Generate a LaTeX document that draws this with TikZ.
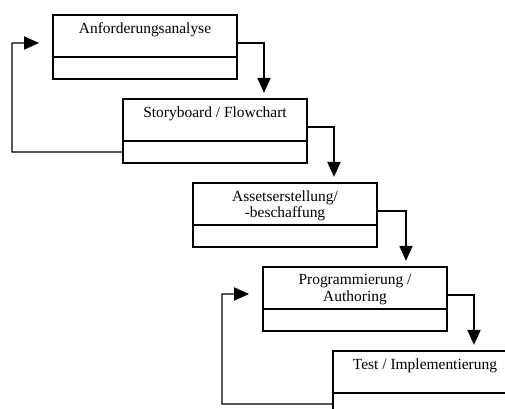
\documentclass[tikz,border=0pt]{standalone}
\usepackage{fontspec}
\setmainfont{Liberation Serif}
\usetikzlibrary{arrows.meta,positioning}

\begin{document}
\begin{tikzpicture}[x=0.02cm, y=-0.02cm, >={Triangle[length=8.5pt,width=7.5pt]}]
    \tikzset{phase/.style={draw, line width=1.5pt, minimum width=3.68cm,
                 minimum height=0.84cm, inner sep=0pt, outer sep=0pt},
             phaselow/.style={phase, minimum height=0.44cm},
             title/.style={inner sep=4pt, align=center,
                 font=\fontsize{8.8}{9.5}\selectfont},
             flow/.style={line width=0.75pt, ->, shorten >=3.5pt}}
    \useasboundingbox (0,0) rectangle (505,409);
    \clip (0,0) rectangle (505,409);
    % phases
    \node[phase] (anf) at (145,36) {};
    \node[phaselow, below=0pt of anf] (anf-low) {};
    \node[title, below] (anf-txt) at (anf.north) {Anforderungsanalyse};
    \node[phase] (story) at (215,120) {};
    \node[phaselow, below=0pt of story] (story-low) {};
    \node[title, below] (story-txt) at (story.north) {Storyboard / Flowchart};
    \node[phase] (asset) at (285,204) {};
    \node[phaselow, below=0pt of asset] (asset-low) {};
    \node[title, below] (asset-txt) at (asset.north) {Assetserstellung/\\-beschaffung};
    \node[phase] (prog) at (355,288) {};
    \node[phaselow, below=0pt of prog] (prog-low) {};
    \node[title, below] (prog-txt) at (prog.north) {Programmierung /\\Authoring};
    \node[phase] (test) at (425,372) {};
    \node[phaselow, below=0pt of test] (test-low) {};
    \node[title, below] (test-txt) at (test.north) {Test / Implementierung};
    % forward arrows
    \draw[flow] ([yshift=-0.14cm]anf.east) -| ([xshift=0.98cm]story.north);
    \draw[flow] ([yshift=-0.14cm]story.east) -| ([xshift=0.98cm]asset.north);
    \draw[flow] ([yshift=-0.14cm]asset.east) -| ([xshift=1.02cm]prog.north);
    \draw[flow] ([yshift=-0.14cm]prog.east) -| ([xshift=0.98cm]test.north);
    % loops back
    \coordinate (ret-a) at (12,43);
    \coordinate (ret-b) at (222,294);
    \draw[flow, shorten >=8pt] (story-low.west) -| (ret-a) -- ([yshift=-0.14cm]anf.west);
    \draw[flow, shorten >=8pt] (test-low.west) -| (ret-b) -- ([yshift=-0.12cm]prog.west);
\end{tikzpicture}
\end{document}
